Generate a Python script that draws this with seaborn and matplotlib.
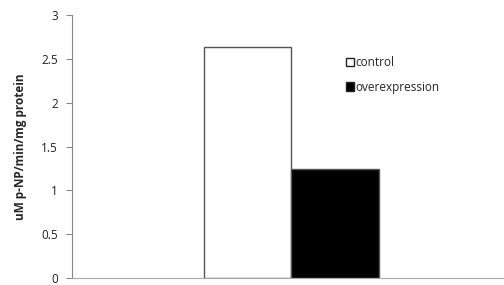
import pandas as pd
import matplotlib.pyplot as plt
import seaborn as sns

# values
groups = ["control", "overexpression"]
activity = [2.64, 1.24]
category = ["sample", "sample"]

df = pd.DataFrame({"group": groups, "activity": activity, "category": category})

sns.set_style("white")
plt.rcParams["font.family"] = ["Open Sans", "DejaVu Sans"]

fig = plt.figure(figsize=(5.04, 2.85), dpi=100)
ax = fig.add_axes([72 / 504, 7 / 285, 432 / 504, 263 / 285])

sns.barplot(
    data=df, x="category", y="activity", hue="group",
    palette={"control": "white", "overexpression": "black"},
    width=0.405, edgecolor="#555555", linewidth=1.0, ax=ax,
)

ax.set_ylim(0, 3)
ax.set_xlim(-0.508, 0.492)
ax.set_yticks([0, 0.5, 1, 1.5, 2, 2.5, 3])
ax.set_yticklabels(["0", "0.5", "1", "1.5", "2", "2.5", "3"], fontsize=8.5, color="#222222")
ax.set_xticks([])
ax.set_xlabel("")
ax.set_ylabel("uM p-NP/min/mg protein", fontsize=8.5, fontweight="bold", labelpad=10)
ax.tick_params(axis="y", which="both", left=True, length=4, width=0.8, color="#888888", pad=6)

for side in ["top", "right"]:
    ax.spines[side].set_visible(False)
ax.spines["left"].set_color("#888888")
ax.spines["bottom"].set_color("#aaaaaa")

leg = ax.legend(
    loc="upper left", bbox_to_anchor=(0.61, 0.885), frameon=False,
    fontsize=8.5, handlelength=0.7, handleheight=0.7, handletextpad=0.1,
    labelspacing=1.0,
)
for h in leg.legend_handles:
    h.set_edgecolor("#222222")

fig.savefig("out.png", dpi=100)
